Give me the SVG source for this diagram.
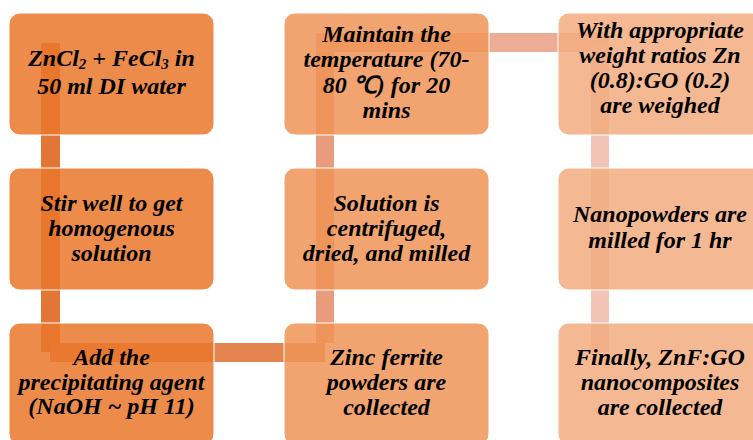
<svg xmlns="http://www.w3.org/2000/svg" width="753" height="440" viewBox="0 0 753 440">
<style>
.b1{fill:#ea772b;fill-opacity:0.85;stroke:#ffffff;stroke-width:1}
.b2{fill:#ee9456;fill-opacity:0.85;stroke:#ffffff;stroke-width:1}
.b3{fill:#f2ad7f;fill-opacity:0.85;stroke:#ffffff;stroke-width:1}
text{font-family:"Liberation Serif","Times New Roman",serif;font-weight:bold;font-style:italic;font-size:24px;fill:#000;text-anchor:middle}
.sub{font-size:15px}
</style>
<g id="connectors">
<rect x="41" y="43" width="19" height="309" fill="#e27637"/>
<rect x="50" y="343" width="275" height="19" fill="#e4844f"/>
<rect x="316" y="43" width="18" height="300" fill="#e89b7d"/>
<rect x="316" y="33" width="293" height="19" fill="#edac96"/>
<rect x="591" y="43" width="18" height="309" fill="#f2c4b8"/>
</g>
<g id="n1"><rect class="b1" x="9" y="13" width="205" height="122" rx="11"/>
<text x="111.5" y="66">ZnCl<tspan class="sub" dy="3">2</tspan><tspan dy="-3"> + FeCl</tspan><tspan class="sub" dy="3">3</tspan><tspan dy="-3"> in</tspan></text>
<text x="111.5" y="94">50 ml DI water</text></g>
<g id="n2"><rect class="b1" x="9" y="168" width="205" height="122" rx="11"/>
<text x="111.5" y="211">Stir well to get</text>
<text x="111.5" y="236">homogenous</text>
<text x="111.5" y="261">solution</text></g>
<g id="n3"><rect class="b1" x="9" y="323" width="205" height="122" rx="11"/>
<text x="111.5" y="365">Add the</text>
<text x="111.5" y="390">precipitating agent</text>
<text x="111.5" y="414">(NaOH ~ pH 11)</text></g>
<g id="n4"><rect class="b2" x="284" y="323" width="205" height="122" rx="11"/>
<text x="386.5" y="365">Zinc ferrite</text>
<text x="386.5" y="390">powders are</text>
<text x="386.5" y="415">collected</text></g>
<g id="n5"><rect class="b2" x="284" y="168" width="205" height="122" rx="11"/>
<text x="386.5" y="211">Solution is</text>
<text x="386.5" y="236">centrifuged,</text>
<text x="386.5" y="261">dried, and milled</text></g>
<g id="n6"><rect class="b2" x="284" y="13" width="205" height="122" rx="11"/>
<text x="386.5" y="42">Maintain the</text>
<text x="386.5" y="67">temperature (70-</text>
<text x="386.5" y="93">80 ℃) for 20</text>
<text x="386.5" y="118">mins</text></g>
<g id="n7"><rect class="b3" x="558" y="13" width="205" height="122" rx="11"/>
<text x="660" y="38">With appropriate</text>
<text x="660" y="63">weight ratios Zn</text>
<text x="660" y="88">(0.8):GO (0.2)</text>
<text x="660" y="113">are weighed</text></g>
<g id="n8"><rect class="b3" x="558" y="168" width="205" height="122" rx="11"/>
<text x="660" y="222">Nanopowders are</text>
<text x="660" y="248">milled for 1 hr</text></g>
<g id="n9"><rect class="b3" x="558" y="323" width="205" height="122" rx="11"/>
<text x="660" y="365">Finally, ZnF:GO</text>
<text x="660" y="390">nanocomposites</text>
<text x="660" y="415">are collected</text></g>
</svg>
